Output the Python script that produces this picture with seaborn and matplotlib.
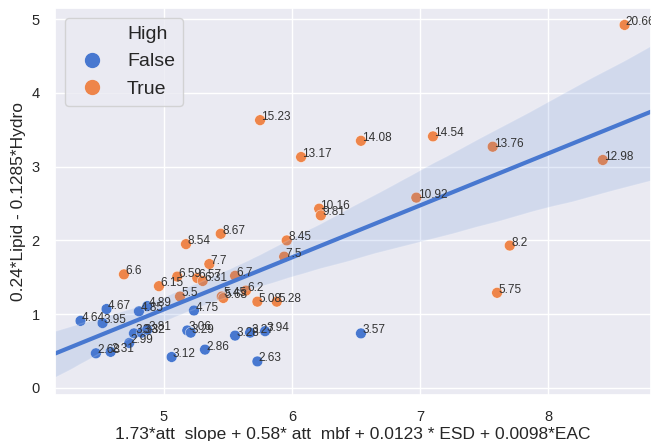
import pandas as pd
import matplotlib
matplotlib.use("Agg")
import matplotlib.pyplot as plt
from matplotlib.lines import Line2D
import seaborn as sns

# score values (used as point labels) and the two composite axes
score = [20.66, 15.23, 14.08, 14.54, 13.76, 13.17, 12.98, 10.92, 10.16, 9.81,
         8.45, 8.67, 8.54, 8.2, 7.7, 7.5, 6.6, 6.59, 6.57, 6.31,
         6.7, 6.15, 6.2, 5.5, 5.45, 5.68, 5.08, 5.28, 5.75,
         4.75, 4.67, 4.85, 4.89, 4.64, 3.95, 3.33, 3.32, 3.81, 2.99,
         2.31, 2.68, 3.12, 3.06, 3.29, 2.86, 3.28, 3.27, 3.94, 2.63, 3.57]
x_att = [8.594, 5.75, 6.537, 7.099, 7.565, 6.07, 8.424, 6.969, 6.211, 6.224,
         5.958, 5.443, 5.172, 7.698, 5.354, 5.938, 4.688, 5.104, 5.26, 5.302,
         5.555, 4.961, 5.64, 5.125, 5.451, 5.463, 5.729, 5.88, 7.599,
         5.234, 4.552, 4.805, 4.87, 4.349, 4.521, 4.766, 4.826, 4.87, 4.729,
         4.584, 4.469, 5.06, 5.182, 5.209, 5.32, 5.555, 5.672, 5.789, 5.729, 6.537]
y_lip = [4.92, 3.63, 3.35, 3.41, 3.27, 3.13, 3.09, 2.58, 2.43, 2.34,
         2.00, 2.09, 1.95, 1.93, 1.68, 1.78, 1.54, 1.51, 1.49, 1.45,
         1.52, 1.38, 1.32, 1.24, 1.24, 1.22, 1.17, 1.17, 1.29,
         1.05, 1.07, 1.04, 1.11, 0.91, 0.88, 0.74, 0.75, 0.79, 0.61,
         0.49, 0.47, 0.42, 0.78, 0.75, 0.52, 0.71, 0.75, 0.77, 0.36, 0.74]

df = pd.DataFrame({"x": x_att, "y": y_lip, "score": score})
df["High"] = df["score"] > 5

sns.set_theme(style="darkgrid", palette="muted")
plt.rcParams["font.family"] = ["Liberation Sans", "DejaVu Sans"]

pal = sns.color_palette("muted")
fig = plt.figure(figsize=(6.51, 4.41), dpi=100)
ax = fig.add_axes([0.0845, 0.1043, 0.9155, 0.8776])

sns.scatterplot(data=df, x="x", y="y", hue="High", palette={False: pal[0], True: pal[1]},
                s=60, linewidth=0.3, ax=ax, legend=False)
ax.set_xlim(4.15, 8.80)
ax.set_ylim(-0.095, 5.15)
sns.regplot(data=df, x="x", y="y", scatter=False, truncate=False, color=pal[0],
            line_kws={"linewidth": 3}, seed=3, ax=ax)
ax.set_xlim(4.15, 8.80)
ax.set_ylim(-0.095, 5.15)

for xi, yi, s in zip(df["x"], df["y"], df["score"]):
    ax.text(xi + 0.01, yi, str(s), fontsize=8.5, color="#333333")

ax.set_xticks([5, 6, 7, 8])
ax.set_yticks([0, 1, 2, 3, 4, 5])
ax.tick_params(labelsize=10.5, pad=5, colors="#262626")
ax.set_xlabel("1.73*att_slope + 0.58* att_mbf + 0.0123 * ESD + 0.0098*EAC", fontsize=12.5, labelpad=2)
ax.set_ylabel("0.24*Lipid - 0.1285*Hydro", fontsize=12.5, labelpad=4)

handles = [Line2D([], [], linestyle="", marker=""),
           Line2D([], [], linestyle="", marker="o", color=pal[0], markersize=10),
           Line2D([], [], linestyle="", marker="o", color=pal[1], markersize=10)]
ax.legend(handles, ["High", "False", "True"], loc="upper left", fontsize=14,
          frameon=True)

fig.savefig("out.png", dpi=100)
